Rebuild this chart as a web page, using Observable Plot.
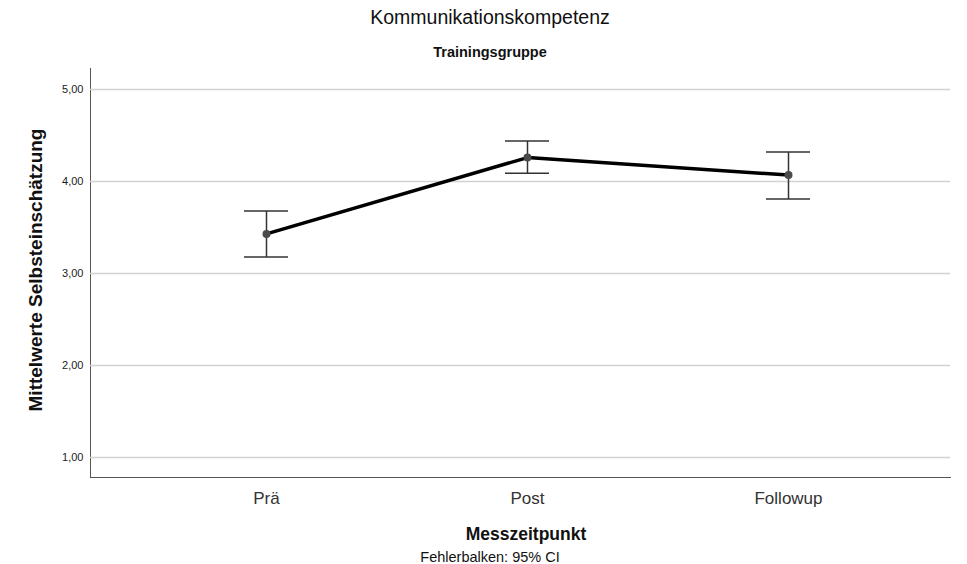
<!DOCTYPE html>
<html><head><meta charset="utf-8">
<script src="https://cdn.jsdelivr.net/npm/d3@7"></script>
<script src="https://cdn.jsdelivr.net/npm/@observablehq/plot@0.6"></script>
<style>
body{margin:0;background:#fff;font-family:"Liberation Sans",Arial,sans-serif;}
#wrap{position:relative;width:967px;height:564px;overflow:hidden;}
#wrap svg{position:absolute;left:0;top:0;}
.t{position:absolute;white-space:nowrap;color:#111;transform:translate(-50%,-50%);line-height:1;}
#wrap svg [aria-label^="x-axis"] text{font-size:17px;fill:#333;}
#wrap svg [aria-label^="y-axis"] text{font-size:11px;fill:#222;}
</style></head><body><div id="wrap"></div>
<script>
const categories = ["Prä", "Post", "Followup"];
const means = [3.43, 4.26, 4.07];
const ciLow = [3.18, 4.09, 3.81];
const ciHigh = [3.68, 4.44, 4.32];
const yTicks = [1, 2, 3, 4, 5];
const titleText = "Kommunikationskompetenz";
const subtitleText = "Trainingsgruppe";
const xLabelText = "Messzeitpunkt";
const yLabelText = "Mittelwerte Selbsteinschätzung";
const captionText = "Fehlerbalken: 95% CI";

const data = categories.map((c, i) => ({cat: c, mean: means[i], lo: ciLow[i], hi: ciHigh[i]}));
const fmt = d => d.toFixed(2).replace(".", ",");

const chart = Plot.plot({
  width: 967, height: 564,
  marginTop: 68, marginBottom: 87, marginLeft: 90, marginRight: 17,
  style: {background: "#fff", color: "#555", fontFamily: "Liberation Sans, Arial, sans-serif"},
  x: {type: "band", domain: categories, range: [243, 811], paddingInner: 0.832, paddingOuter: 0, label: null, tickSize: 0, tickPadding: 14, line: true},
  y: {domain: [0.783, 5.228], ticks: yTicks, tickFormat: fmt, label: null, tickSize: 0, tickPadding: 7, line: true},
  marks: [
    Plot.ruleY(yTicks, {stroke: "#d2d2d2", strokeWidth: 1.5}),
    Plot.link(data, {x1: "cat", x2: "cat", y1: "lo", y2: "hi", stroke: "#333", strokeWidth: 1.5}),
    Plot.tickY(data, {x: "cat", y: "lo", stroke: "#333", strokeWidth: 1.5}),
    Plot.tickY(data, {x: "cat", y: "hi", stroke: "#333", strokeWidth: 1.5}),
    Plot.line(data, {x: "cat", y: "mean", stroke: "#000", strokeWidth: 3.5}),
    Plot.dot(data, {x: "cat", y: "mean", r: 4, fill: "#4a4a4a", stroke: "none"})
  ]
});
const wrap = document.getElementById("wrap");
wrap.appendChild(chart);

function addText(txt, x, y, size, weight, rotate) {
  const d = document.createElement("div");
  d.className = "t";
  d.textContent = txt;
  d.style.left = x + "px";
  d.style.top = y + "px";
  d.style.fontSize = size + "px";
  d.style.fontWeight = weight;
  if (rotate) d.style.transform = "translate(-50%,-50%) rotate(-90deg)";
  wrap.appendChild(d);
}
addText(titleText, 490, 18, 19.5, "normal");
addText(subtitleText, 490, 52, 14.5, "bold");
addText(xLabelText, 526, 535, 17.5, "bold");
addText(captionText, 490, 557, 14.5, "normal");
addText(yLabelText, 35, 270, 19, "bold", true);
</script></body></html>
